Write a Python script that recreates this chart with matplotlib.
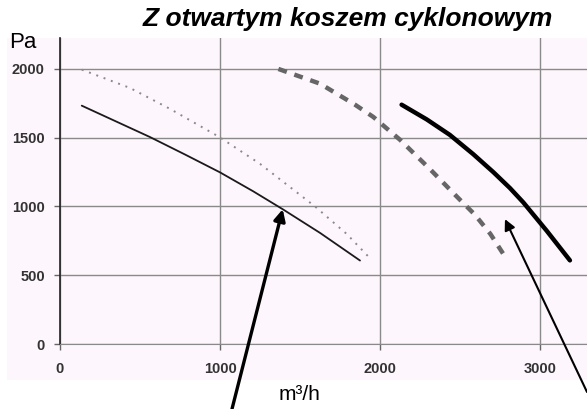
import numpy as np
import matplotlib.pyplot as plt
from matplotlib.patches import Rectangle

plt.rcParams['font.family'] = ['Liberation Sans', 'DejaVu Sans']

#%% values (m3/h, Pa)
x_thin = [136, 562, 781, 1000, 1208, 1392, 1625, 1875]
y_thin = [1733, 1505, 1378, 1248, 1110, 980, 808, 607]

x_dot = [136, 437, 687, 996, 1250, 1594, 1792, 1937]
y_dot = [1995, 1862, 1710, 1505, 1310, 1000, 800, 624]

x_dash = [1365, 1625, 1844, 1958, 2125, 2312, 2479, 2594, 2690, 2781]
y_dash = [2000, 1893, 1740, 1651, 1485, 1272, 1073, 939, 800, 636]

x_thick = [2135, 2292, 2437, 2583, 2708, 2812, 2896, 3042, 3187]
y_thick = [1740, 1633, 1520, 1380, 1250, 1134, 1029, 823, 608]

xticks = [0, 1000, 2000, 3000]
yticks = [0, 500, 1000, 1500, 2000]

#%% figure
W, H = 587, 409
fig = plt.figure(figsize=(W / 100, H / 100), dpi=100)
pink = '#fdf6fc'
fig.add_artist(Rectangle((7 / W, (H - 380) / H), 580 / W, 342 / H,
                         transform=fig.transFigure, facecolor=pink,
                         edgecolor='none', zorder=0))

ax = fig.add_axes([60 / W, (H - 344) / H, 528 / W, 306 / H])
ax.set_facecolor(pink)
ax.set_xlim(0, 3300)
ax.set_ylim(0, 2225)
ax.set_xticks(xticks)
ax.set_yticks(yticks)
ax.grid(True, color='#8a8a8a', lw=1)
ax.set_axisbelow(True)
for s in ['top', 'right']:
    ax.spines[s].set_visible(False)
ax.spines['left'].set_color('#222222')
ax.spines['left'].set_linewidth(1.2)
ax.spines['bottom'].set_color('#8a8a8a')
ax.tick_params(direction='out', length=4, color='#666666', width=1,
               labelsize=10.5, labelcolor='#333333')
ax.tick_params(axis='y', pad=7)
ax.tick_params(axis='x', pad=9)
for lab in ax.get_xticklabels() + ax.get_yticklabels():
    lab.set_fontweight('bold')

ax.plot(x_thin, y_thin, color='#1a1a1a', lw=1.3, solid_capstyle='round')
ax.plot(x_dot, y_dot, color='#8a8a8a', lw=1.4, ls=(0, (1, 3)))
ax.plot(x_dash, y_dash, color='#666666', lw=3.2, ls=(0, (2, 1.8)))
ax.plot(x_thick, y_thick, color='black', lw=3.2, solid_capstyle='round')

fig.text(143 / W, 1 - 19 / H, 'Z otwartym koszem cyklonowym', ha='left',
         va='center', fontsize=19, fontweight='bold', style='italic')
fig.text(9 / W, 1 - 43 / H, 'Pa', ha='left', va='center', fontsize=16)
fig.text(300 / W, 1 - 395 / H, 'm³/h', ha='center', va='center', fontsize=15)

ax.annotate('', xy=(1392, 980), xycoords='data',
            xytext=(232 / W, 0.0), textcoords='figure fraction',
            arrowprops=dict(arrowstyle='-|>', lw=2.4, color='black',
                            mutation_scale=17, shrinkA=0, shrinkB=0),
            annotation_clip=False)
ax.annotate('', xy=(2781, 908), xycoords='data',
            xytext=(587 / W, 1 - 392 / H), textcoords='figure fraction',
            arrowprops=dict(arrowstyle='-|>', lw=1.5, color='black',
                            mutation_scale=16, shrinkA=0, shrinkB=0),
            annotation_clip=False)

fig.savefig('out.png', dpi=100)
